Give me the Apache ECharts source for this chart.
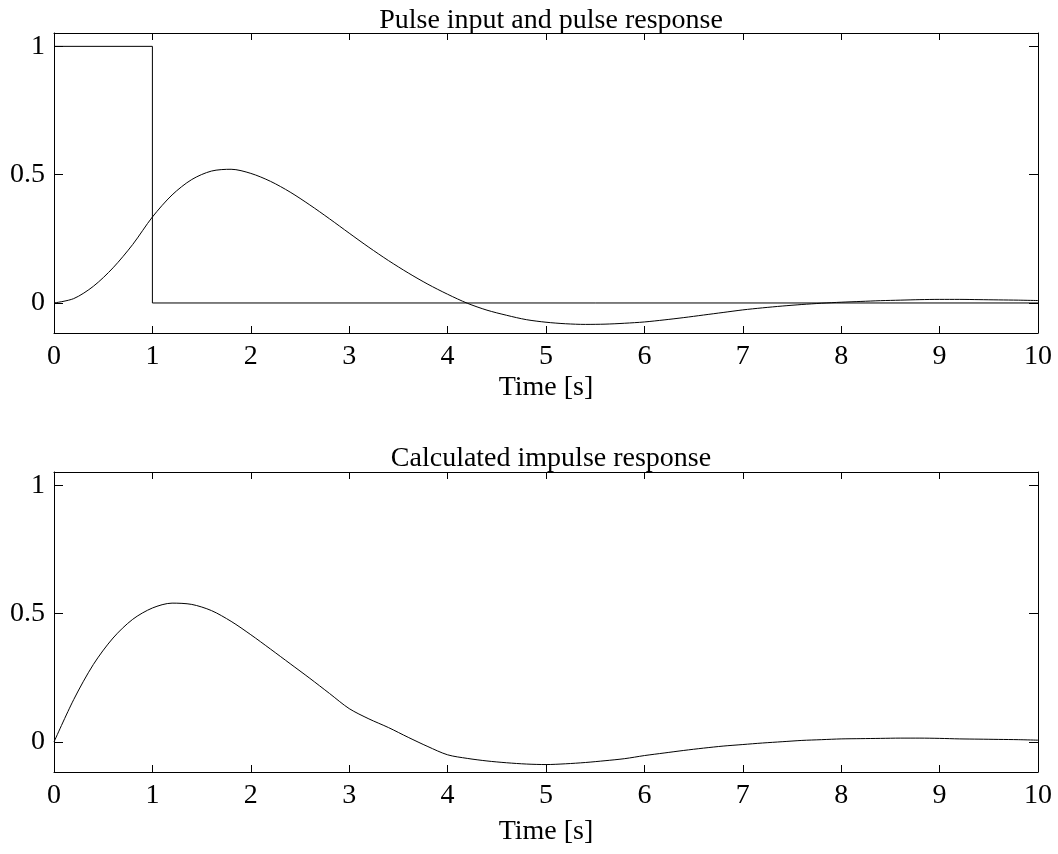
<!DOCTYPE html>
<html>
<head>
<meta charset="utf-8">
<title>Pulse input and pulse response</title>
<script src="https://cdn.jsdelivr.net/npm/echarts@6/dist/echarts.min.js"></script>
<style>
  html, body { margin: 0; padding: 0; background: #fff; }
  #chart { width: 1058px; height: 854px; }
</style>
</head>
<body>
<div id="chart"></div>
<script>
// Sample times [s], every 0.2 s
const time = [
  0, 0.2, 0.4, 0.6, 0.8, 1, 1.2, 1.4, 1.6, 1.8,
  2, 2.2, 2.4, 2.6, 2.8, 3, 3.2, 3.4, 3.6, 3.8,
  4, 4.2, 4.4, 4.6, 4.8, 5, 5.2, 5.4, 5.6, 5.8,
  6, 6.2, 6.4, 6.6, 6.8, 7, 7.2, 7.4, 7.6, 7.8,
  8, 8.2, 8.4, 8.6, 8.8, 9, 9.2, 9.4, 9.6, 9.8, 10
];

// Response of the system to the 1 s pulse
const pulseResponse = [
  0, 0.017, 0.065, 0.137, 0.228, 0.335, 0.421, 0.481, 0.514, 0.521,
  0.505, 0.474, 0.432, 0.382, 0.328, 0.272, 0.217, 0.165, 0.117, 0.073,
  0.034, -0.001, -0.028, -0.048, -0.065, -0.075, -0.081, -0.0835, -0.0825, -0.079,
  -0.074, -0.066, -0.057, -0.047, -0.037, -0.027, -0.019, -0.012, -0.006, -0.001,
  0.003, 0.006, 0.009, 0.011, 0.013, 0.014, 0.014, 0.013, 0.012, 0.011, 0.0095
];

// Impulse response obtained from the pulse test
const impulseResponse = [
  0, 0.165, 0.302, 0.405, 0.478, 0.522, 0.541, 0.536, 0.512, 0.47,
  0.418, 0.362, 0.305, 0.248, 0.189, 0.13, 0.09, 0.056, 0.018, -0.018,
  -0.05, -0.064, -0.074, -0.081, -0.086, -0.088, -0.085, -0.08, -0.073, -0.065,
  -0.053, -0.043, -0.033, -0.024, -0.016, -0.01, -0.004, 0.001, 0.006, 0.009,
  0.012, 0.013, 0.014, 0.015, 0.015, 0.014, 0.012, 0.011, 0.01, 0.009, 0.007
];

// Pulse input: amplitude 1 for the first second
const inputTime = [0, 1, 1, 10];
const inputValue = [1, 1, 0, 0];

// Axis ticks
const xTicks = [0, 1, 2, 3, 4, 5, 6, 7, 8, 9, 10];
const yTicks = [0, 0.5, 1];

const FONT = 'Liberation Serif';
const BLACK = '#000';
const Y_MIN = -0.117, Y_MAX = 1.052;

function pairs(xs, ys) { return xs.map((x, i) => [x, ys[i]]); }

function xAxisPair(grid, nameGap) {
  const common = {
    gridIndex: grid, type: 'value', min: xTicks[0], max: xTicks[xTicks.length - 1], interval: 1,
    splitLine: { show: false },
    axisLine: { onZero: false, lineStyle: { color: BLACK, width: 1 } },
    axisTick: { inside: true, length: 7, lineStyle: { color: BLACK, width: 1 } }
  };
  return [
    Object.assign({}, common, {
      position: 'bottom',
      name: 'Time [s]', nameLocation: 'middle', nameGap: nameGap,
      nameTextStyle: { fontFamily: FONT, fontSize: 28, color: BLACK },
      axisLabel: { margin: 10, fontFamily: FONT, fontSize: 28, color: BLACK }
    }),
    Object.assign({}, common, { position: 'top', axisLabel: { show: false } })
  ];
}

function yAxisPair(grid) {
  const common = {
    gridIndex: grid, type: 'value', min: Y_MIN, max: Y_MAX,
    splitLine: { show: false },
    axisLine: { onZero: false, lineStyle: { color: BLACK, width: 1 } },
    axisTick: { inside: true, length: 9, customValues: yTicks, lineStyle: { color: BLACK, width: 1 } }
  };
  return [
    Object.assign({}, common, {
      position: 'left',
      axisLabel: { customValues: yTicks, margin: 9, fontFamily: FONT, fontSize: 28, color: BLACK }
    }),
    Object.assign({}, common, { position: 'right', axisLabel: { show: false } })
  ];
}

const lineStyle = { color: BLACK, width: 1 };

const option = {
  animation: false,
  backgroundColor: '#fff',
  title: [
    {
      text: 'Pulse input and pulse response', left: 546, top: 2, textAlign: 'center',
      textStyle: { fontFamily: FONT, fontSize: 28, fontWeight: 'normal', color: BLACK }
    },
    {
      text: 'Calculated impulse response', left: 546, top: 440, textAlign: 'center',
      textStyle: { fontFamily: FONT, fontSize: 28, fontWeight: 'normal', color: BLACK }
    }
  ],
  grid: [
    { left: 54, top: 33, width: 984, height: 300 },
    { left: 54, top: 472, width: 984, height: 300 }
  ],
  xAxis: [...xAxisPair(0, 41), ...xAxisPair(1, 46)],
  yAxis: [...yAxisPair(0), ...yAxisPair(1)],
  series: [
    {
      type: 'line', xAxisIndex: 0, yAxisIndex: 0, data: pairs(inputTime, inputValue),
      showSymbol: false, lineStyle, silent: true
    },
    {
      type: 'line', xAxisIndex: 0, yAxisIndex: 0, data: pairs(time, pulseResponse),
      smooth: 0.3, showSymbol: false, lineStyle, silent: true
    },
    {
      type: 'line', xAxisIndex: 2, yAxisIndex: 2, data: pairs(time, impulseResponse),
      smooth: 0.3, showSymbol: false, lineStyle, silent: true
    }
  ]
};

const chart = echarts.init(document.getElementById('chart'), null, { renderer: 'canvas' });
chart.setOption(option);
</script>
</body>
</html>
